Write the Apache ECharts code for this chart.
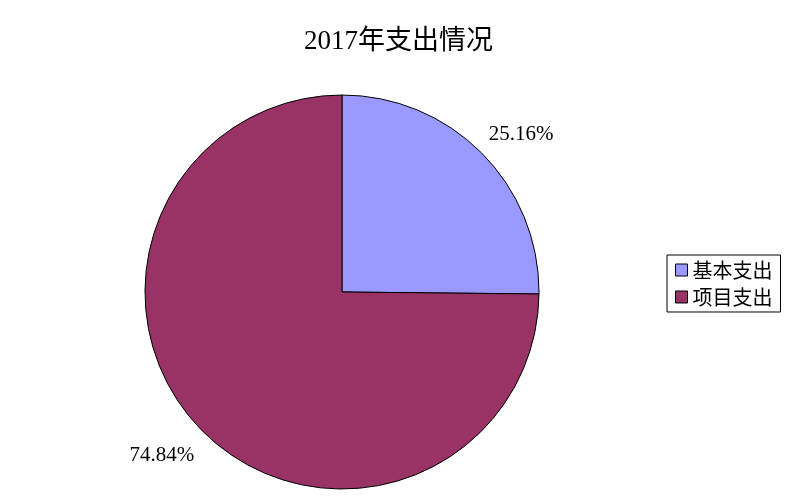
<!DOCTYPE html>
<html><head><meta charset="utf-8">
<script src="https://cdn.jsdelivr.net/npm/echarts@6/dist/echarts.min.js"></script>
<style>html,body{margin:0;padding:0;background:#fff}#c{width:797px;height:503px}</style>
</head><body><div id="c"></div>
<script>
const titleText = '2017年支出情况';
const categories = ['基本支出', '项目支出'];
const values = [25.16, 74.84];
const colors = ['#9999FF', '#993366'];

const chart = echarts.init(document.getElementById('c'), null, {renderer: 'canvas'});
const fontFam = '"Liberation Serif", "Noto Sans CJK SC", serif';
chart.setOption({
  animation: false,
  backgroundColor: '#fff',
  title: {
    text: titleText, left: 'center', top: 23,
    textStyle: {fontFamily: fontFam, fontSize: 27, fontWeight: 'normal', color: '#000'}
  },
  legend: {
    orient: 'vertical', left: 667, top: 255,
    padding: [5, 8, 5, 8], itemGap: 7,
    itemWidth: 12, itemHeight: 12, icon: 'rect',
    borderColor: '#000', borderWidth: 1,
    itemStyle: {borderColor: '#000', borderWidth: 1},
    textStyle: {fontFamily: '"Noto Sans CJK SC", serif', fontSize: 20, color: '#000'},
    data: categories
  },
  series: [{
    type: 'pie',
    center: [342, 292], radius: 197,
    startAngle: 90, clockwise: true,
    avoidLabelOverlap: false,
    itemStyle: {borderColor: '#000', borderWidth: 1},
    label: {
      show: true, position: 'outside',
      formatter: p => p.value.toFixed(2) + '%',
      fontFamily: fontFam, fontSize: 21, color: '#000'
    },
    labelLine: {show: false, length: 22, length2: 0},
    labelLayout: p => (p.dataIndex === 0 ? {dx: -14, dy: -3} : {dx: 13, dy: 9}),
    emphasis: {disabled: true},
    data: categories.map((n, i) => ({name: n, value: values[i], itemStyle: {color: colors[i]}}))
  }]
});
</script></body></html>
